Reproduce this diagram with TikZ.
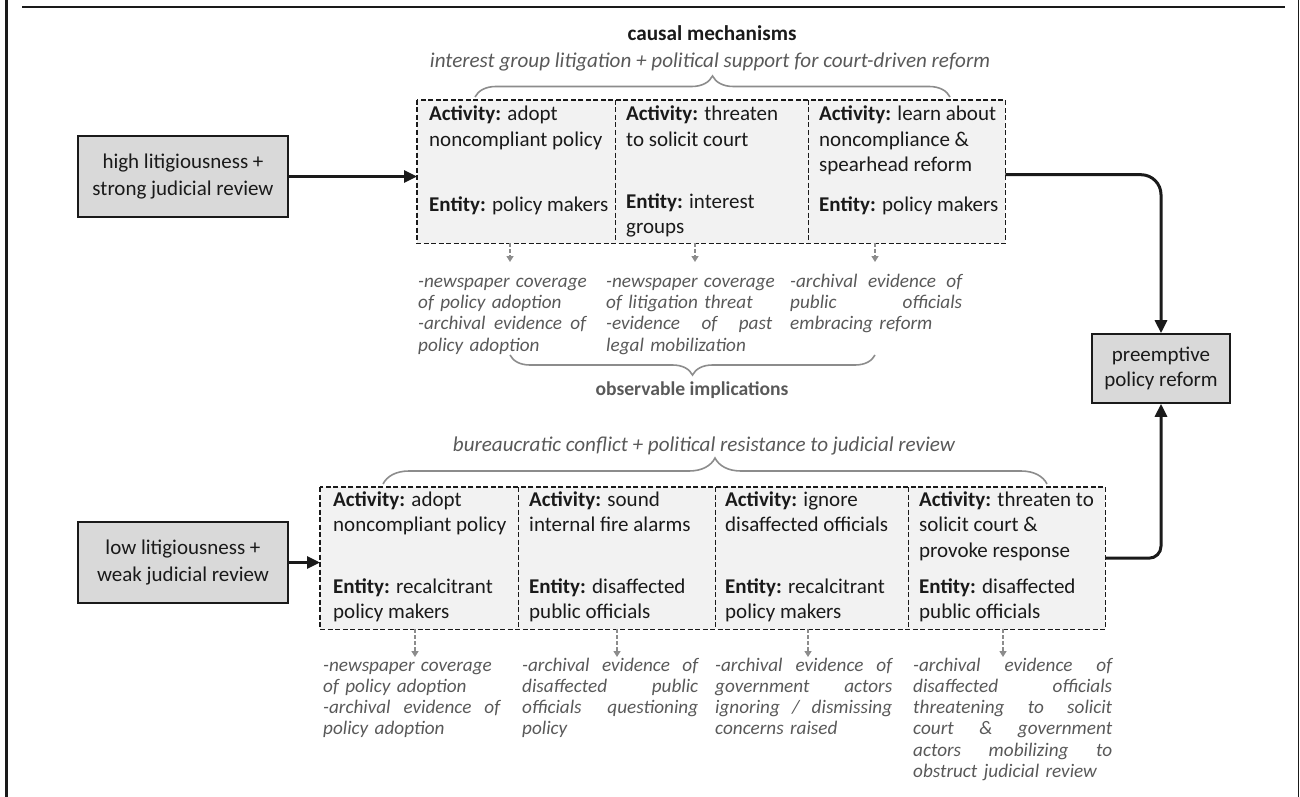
\documentclass[tikz,border=0pt]{standalone}
\usepackage{fontspec}
\setmainfont{Carlito}
\usetikzlibrary{arrows.meta,decorations.pathreplacing,calc}
\definecolor{txtgray}{HTML}{595959}
\definecolor{lngray}{HTML}{8C8C8C}
\definecolor{cellfill}{HTML}{F2F2F2}
\definecolor{boxfill}{HTML}{D9D9D9}
\definecolor{ink}{HTML}{1A1A1A}
\newlength{\implw}
\newcommand{\jl}[1]{{\spaceskip=0.226em plus 1fil minus 0.05em\relax\makebox[\implw][s]{#1}}}
\begin{document}
\begin{tikzpicture}[x=1pt,y=-1pt,
  cell/.style={fill=cellfill, inner sep=0pt, minimum height=#1, anchor=north west},
  dashbox/.style={draw=ink, line width=1.4pt, dash pattern=on 5pt off 2.5pt},
  bigbox/.style={draw=ink, line width=1.6pt, fill=boxfill, align=center, inner sep=0pt,
    font=\fontsize{21}{26.5}\selectfont, text=ink},
  celltext/.style={anchor=north west, align=left, inner sep=0pt, text=ink,
    font=\fontsize{21}{25.5}\selectfont, execute at begin node=\strut},
  impl/.style={anchor=north west, align=left, inner sep=0pt, text width=#1, text=txtgray,
    font=\fontsize{19.2}{21.2}\selectfont\itshape,
    execute at begin node={\setlength{\implw}{#1}\strut}},
  mainarrow/.style={draw=ink, line width=3pt, -{Triangle[length=13pt,width=12pt]}},
  grayarrow/.style={draw=lngray, line width=1.6pt, dash pattern=on 4pt off 2pt,
    -{Triangle[length=6pt,width=7pt]}},
  bracestyle/.style={draw=lngray, line width=1.6pt, decorate,
    decoration={brace, amplitude=#1}},
  heading/.style={inner sep=0pt, text=txtgray, font=\fontsize{21.1}{24}\selectfont\itshape},
]
\useasboundingbox (0,0) rectangle (1300,797);
% frame
\draw[ink, line width=3pt] (6,0) -- (6,797);
\draw[ink, line width=2.6pt] (22,7) -- (1285,7);
\draw[ink, line width=1pt] (1298,0) -- (1298,797);

% ---------- top row ----------
\node[font=\fontsize{21.2}{25}\selectfont\bfseries, text=ink, inner sep=0pt] (cm) at (712,33) {causal mechanisms};
\node[heading] (h1) at (710,62) {interest group litigation + political support for court-driven reform};
\coordinate (b1l) at (475,97);
\coordinate (b1r) at (950,97);
\draw[bracestyle=21pt] (b1l) -- (b1r);

\node[cell=143pt, minimum width=198pt] (c1) at (417,100) {};
\node[cell=143pt, minimum width=193pt] (c2) at (615,100) {};
\node[cell=143pt, minimum width=197pt] (c3) at (808,100) {};
\draw[dashbox] (c1.north west) rectangle (c3.south east);
\draw[dashbox] (c1.north east) -- (c1.south east);
\draw[dashbox] (c2.north east) -- (c2.south east);

\node[celltext] (c1a) at (429,105.6) {\textbf{Activity:} adopt\\noncompliant policy};
\node[celltext] (c1e) at (429,193.2) {\textbf{Entity:} policy makers};
\node[celltext] (c2a) at (626,105.6) {\textbf{Activity:} threaten\\to solicit court};
\node[celltext] (c2e) at (626,193.2) {\textbf{Entity:} interest\\groups};
\node[celltext] (c3a) at (819,105.6) {\textbf{Activity:} learn about\\noncompliance \&\\spearhead reform};
\node[celltext] (c3e) at (819,193.2) {\textbf{Entity:} policy makers};

\node[bigbox, minimum width=210pt, minimum height=81pt] (hb) at (183,176.5) {high litigiousness +\\strong judicial review};
\draw[mainarrow] (hb.east) -- (hb.east -| c1.west);

\node[impl=168pt] (i1) at (418,272.5) {\mbox{-newspaper coverage}\\of policy adoption\\\jl{-archival evidence of}\\policy adoption};
\node[impl=166pt] (i2) at (606,272.5) {\mbox{-newspaper coverage}\\of litigation threat\\\jl{-evidence of past}\\legal mobilization};
\node[impl=172pt] (i3) at (790,272.5) {\jl{-archival evidence of}\\\jl{public officials}\\embracing reform};

\coordinate (a1) at (510,262);
\coordinate (a2) at (695,262);
\coordinate (a3) at (875,262);
\draw[grayarrow] (a1 |- c1.south) -- (a1);
\draw[grayarrow] (a2 |- c2.south) -- (a2);
\draw[grayarrow] (a3 |- c3.south) -- (a3);

\coordinate (b2r) at (875,355);
\coordinate (b2l) at (510,355);
\draw[bracestyle=20pt] (b2r) -- (b2l);
\node[font=\fontsize{19.6}{24}\selectfont\bfseries, text=txtgray, inner sep=0pt] (oi) at (692,390) {observable implications};

% ---------- right box ----------
\node[bigbox, minimum width=138pt, minimum height=69pt, font=\fontsize{21}{25}\selectfont] (pr) at (1161,368.5) {preemptive\\policy reform};

% ---------- bottom row ----------
\node[heading] (h2) at (704,446) {bureaucratic conflict + political resistance to judicial review};
\coordinate (b3l) at (383,484);
\coordinate (b3r) at (1047,484);
\draw[bracestyle=26pt] (b3l) -- (b3r);

\node[cell=142pt, minimum width=198pt] (d1) at (320,487) {};
\node[cell=142pt, minimum width=197pt] (d2) at (518,487) {};
\node[cell=142pt, minimum width=193pt] (d3) at (715,487) {};
\node[cell=142pt, minimum width=197pt] (d4) at (908,487) {};
\draw[dashbox] (d1.north west) rectangle (d4.south east);
\draw[dashbox] (d1.north east) -- (d1.south east);
\draw[dashbox] (d2.north east) -- (d2.south east);
\draw[dashbox] (d3.north east) -- (d3.south east);

\node[celltext] (d1a) at (333,491.2) {\textbf{Activity:} adopt\\noncompliant policy};
\node[celltext] (d1e) at (333,578.2) {\textbf{Entity:} recalcitrant\\policy makers};
\node[celltext] (d2a) at (529,491.2) {\textbf{Activity:} sound\\internal fire alarms};
\node[celltext] (d2e) at (529,578.2) {\textbf{Entity:} disaffected\\public officials};
\node[celltext] (d3a) at (725,491.2) {\textbf{Activity:} ignore\\disaffected officials};
\node[celltext] (d3e) at (725,578.2) {\textbf{Entity:} recalcitrant\\policy makers};
\node[celltext] (d4a) at (919,491.2) {\textbf{Activity:} threaten to\\solicit court \&\\provoke response};
\node[celltext] (d4e) at (919,578.2) {\textbf{Entity:} disaffected\\public officials};

\node[bigbox, minimum width=210pt, minimum height=81pt] (lb) at (183,562.5) {low litigiousness +\\weak judicial review};
\draw[mainarrow] (lb.east) -- (lb.east -| d1.west);

\node[impl=177pt] (j1) at (323,656.2) {\mbox{-newspaper coverage}\\of policy adoption\\\jl{-archival evidence of}\\policy adoption};
\node[impl=176pt] (j2) at (522,656.2) {\jl{-archival evidence of}\\\jl{disaffected public}\\\jl{officials questioning}\\policy};
\node[impl=177pt] (j3) at (715,656.2) {\jl{-archival evidence of}\\\jl{government actors}\\\jl{ignoring / dismissing}\\concerns raised};
\node[impl=199pt] (j4) at (913,656.2) {\jl{-archival evidence of}\\\jl{disaffected officials}\\\jl{threatening to solicit}\\\jl{court \& government}\\\jl{actors mobilizing to}\\obstruct judicial review};

\coordinate (e1) at (415,657);
\coordinate (e2) at (617,657);
\coordinate (e3) at (808,657);
\coordinate (e4) at (1003,657);
\draw[grayarrow] (e1 |- d1.south) -- (e1);
\draw[grayarrow] (e2 |- d2.south) -- (e2);
\draw[grayarrow] (e3 |- d3.south) -- (e3);
\draw[grayarrow] (e4 |- d4.south) -- (e4);

% ---------- connectors to outcome ----------
\draw[mainarrow, rounded corners=20pt] ($(c3.east)+(0,3)$) -| (pr.north);
\draw[mainarrow, rounded corners=12pt] (d4.east) -| (pr.south);
\end{tikzpicture}
\end{document}
